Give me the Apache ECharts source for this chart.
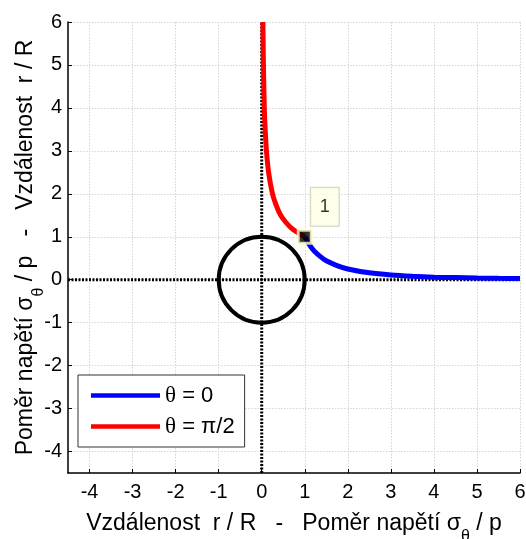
<!DOCTYPE html>
<html>
<head>
<meta charset="utf-8">
<script src="https://cdn.jsdelivr.net/npm/echarts@6/dist/echarts.min.js"></script>
<style>
  html, body { margin: 0; padding: 0; background: #fff; }
  #chart { width: 526px; height: 539px; }
</style>
</head>
<body>
<div id="chart"></div>
<script>
// Tick positions on both axes
const xTicks = [-4, -3, -2, -1, 0, 1, 2, 3, 4, 5, 6];
const yTicks = [-4, -3, -2, -1, 0, 1, 2, 3, 4, 5, 6];
const axisMin = -4.5;
const axisMax = 6;

// theta = 0: hoop stress ratio sigma/p versus distance r/R (r along x)
const r0 = [1, 1.1, 1.2, 1.35, 1.5, 1.75, 2, 2.5, 3, 3.5, 4, 4.5, 5, 5.5, 6];
const s0 = [1, 0.83, 0.69, 0.55, 0.44, 0.33, 0.25, 0.16, 0.11, 0.08, 0.06, 0.05, 0.04, 0.033, 0.028];

// theta = pi/2: stress ratio along x, distance r/R along y
const r90 = [1, 1.1, 1.2, 1.35, 1.5, 1.75, 2, 2.5, 3, 3.5, 4, 5, 6];
const s90 = [1, 0.83, 0.69, 0.55, 0.44, 0.33, 0.25, 0.16, 0.11, 0.08, 0.06, 0.04, 0.028];

// Hole of unit radius centred at the origin: [cx, cy, radius]
const hole = [[0, 0, 1]];

// Data tip at r/R = 1
const tipPoint = [1, 1];
const tipText = '1';

const names = ['θ = 0', 'θ = π/2'];

const chart = echarts.init(document.getElementById('chart'));

const font = 'Liberation Sans, Arial, sans-serif';
const serif = 'Liberation Serif, Times New Roman, serif';
const gridLine = { show: true, lineStyle: { color: '#d4d4d4', type: [1.5, 1.5], width: 1 } };

function axis(ticks, margin) {
  return {
    type: 'value',
    min: axisMin,
    max: axisMax,
    axisLine: { show: true, onZero: false, lineStyle: { color: '#000', width: 1.5 } },
    axisTick: { show: true, inside: true, length: 4, customValues: ticks, lineStyle: { color: '#000' } },
    axisLabel: { customValues: ticks, color: '#000', fontSize: 20, fontFamily: font, margin: margin },
    splitLine: gridLine
  };
}

const nameRich = {
  sub: { fontSize: 16, verticalAlign: 'bottom', padding: [0, 0, -10, 0], fontFamily: font, color: '#000' }
};

const xAxis = Object.assign(axis(xTicks, 9), {
  name: 'Vzdálenost  r / R   -   Poměr napětí σ{sub|θ} / p',
  nameLocation: 'middle',
  nameGap: 39,
  nameMoveOverlap: false,
  nameTextStyle: { fontSize: 23, fontFamily: font, color: '#000', rich: nameRich }
});
const yAxis = Object.assign(axis(yTicks, 6), {
  name: 'Poměr napětí σ{sub|θ} / p   -   Vzdálenost  r / R',
  nameLocation: 'middle',
  nameGap: 31,
  nameRotate: 90,
  nameMoveOverlap: false,
  nameTextStyle: { fontSize: 23, fontFamily: font, color: '#000', rich: nameRich }
});

chart.setOption({
  backgroundColor: '#fff',
  animation: false,
  grid: { left: 68, right: 6, top: 22, bottom: 66, containLabel: false, outerBoundsMode: 'none' },
  xAxis: xAxis,
  yAxis: yAxis,
  legend: {
    orient: 'vertical',
    left: 78,
    top: 375,
    data: names,
    icon: 'rect',
    itemWidth: 69,
    itemHeight: 4.5,
    itemGap: 8,
    padding: [9, 10, 9, 13],
    borderColor: '#333',
    borderWidth: 1,
    borderRadius: 0,
    backgroundColor: '#fff',
    formatter: function (name) {
      return '{t|θ}' + name.slice(1);
    },
    textStyle: {
      fontSize: 22, fontFamily: font, color: '#000',
      rich: { t: { fontSize: 23, fontFamily: serif, color: '#000' } }
    }
  },
  series: [
    {
      // dotted coordinate axes through the origin
      type: 'line', silent: true, symbol: 'none', z: 1,
      data: [[0, axisMin], [0, axisMax]],
      lineStyle: { color: '#000', width: 3, type: [2, 1.5] }
    },
    {
      type: 'line', silent: true, symbol: 'none', z: 1,
      data: [[axisMin, 0], [axisMax, 0]],
      lineStyle: { color: '#000', width: 3, type: [2, 1.5] }
    },
    {
      type: 'custom', silent: true, z: 2,
      data: hole,
      renderItem: function (params, api) {
        const c = api.coord([api.value(0), api.value(1)]);
        const r = api.size([api.value(2), api.value(2)]);
        return {
          type: 'circle',
          shape: { cx: c[0], cy: c[1], r: (r[0] + r[1]) / 2 },
          style: { fill: 'none', stroke: '#000', lineWidth: 4 }
        };
      }
    },
    {
      name: names[0], type: 'line', symbol: 'none', smooth: 0.3, z: 3,
      data: r0.map((r, i) => [r, s0[i]]),
      lineStyle: { color: '#0000ff', width: 5 },
      itemStyle: { color: '#0000ff' }
    },
    {
      name: names[1], type: 'line', symbol: 'none', smooth: 0.3, z: 3,
      data: r90.map((r, i) => [s90[i], r]),
      lineStyle: { color: '#ff0000', width: 5 },
      itemStyle: { color: '#ff0000' }
    },
    {
      type: 'scatter', silent: true, z: 5,
      data: [tipPoint],
      symbol: 'rect',
      symbolSize: 13,
      itemStyle: { color: '#000', borderColor: '#ffffc8', borderWidth: 3 },
      label: {
        show: true,
        formatter: tipText,
        position: [14, -41],
        fontSize: 18,
        fontFamily: font,
        color: '#000',
        lineHeight: 18,
        backgroundColor: '#ffffe6',
        borderColor: '#c8c8b0',
        borderWidth: 1,
        padding: [10, 9]
      }
    }
  ]
});
</script>
</body>
</html>
